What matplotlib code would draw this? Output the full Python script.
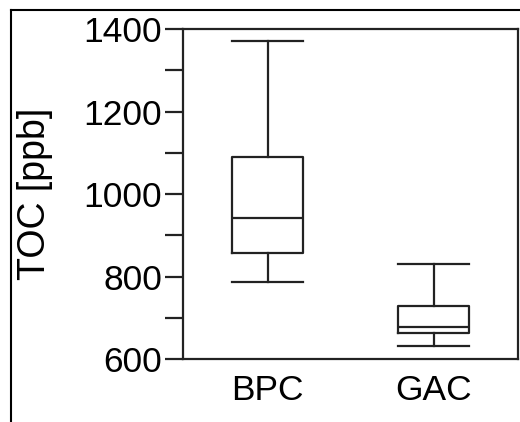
import matplotlib.pyplot as plt
from matplotlib.lines import Line2D

plt.rcParams['font.family'] = ['Liberation Sans', 'DejaVu Sans']

# box statistics for the two filters (ppb)
groups = ['BPC', 'GAC']
whisker_low = [787, 632]
q1 = [857, 663]
median = [942, 678]
q3 = [1090, 729]
whisker_high = [1371, 830]

stats = []
for i, name in enumerate(groups):
    stats.append({'label': name, 'whislo': whisker_low[i], 'q1': q1[i],
                  'med': median[i], 'q3': q3[i], 'whishi': whisker_high[i],
                  'fliers': []})

fig = plt.figure(figsize=(5.2, 4.22), dpi=100)
ax = fig.add_axes([0.352, 0.149, 0.645, 0.782])

col = '#222222'
lw = 1.6
ax.bxp(stats, positions=[1, 2], widths=0.43, showfliers=False,
       boxprops=dict(color=col, linewidth=lw),
       medianprops=dict(color=col, linewidth=lw),
       whiskerprops=dict(color=col, linewidth=lw),
       capprops=dict(color=col, linewidth=lw),
       capwidths=0.43)

ax.set_xlim(0.49, 2.51)
ax.set_ylim(600, 1400)
ax.set_yticks([600, 800, 1000, 1200, 1400])
ax.set_yticks([700, 900, 1100, 1300], minor=True)
ax.tick_params(axis='y', which='both', length=13, width=1.6, color=col,
               labelsize=25.5, pad=2)
ax.tick_params(axis='x', length=0, labelsize=25.5, pad=11)
for s in ax.spines.values():
    s.set_linewidth(1.6)
    s.set_color(col)

ax.set_ylabel('TOC [ppb]', fontsize=27, labelpad=22)

# outer frame (left and top edges)
fig.add_artist(Line2D([11 / 520, 11 / 520], [0, 1 - 10 / 422],
                      transform=fig.transFigure, color='black', lw=1.5))
fig.add_artist(Line2D([11 / 520, 1], [1 - 10 / 422, 1 - 10 / 422],
                      transform=fig.transFigure, color='black', lw=1.5))

fig.savefig('out.png', dpi=100)
